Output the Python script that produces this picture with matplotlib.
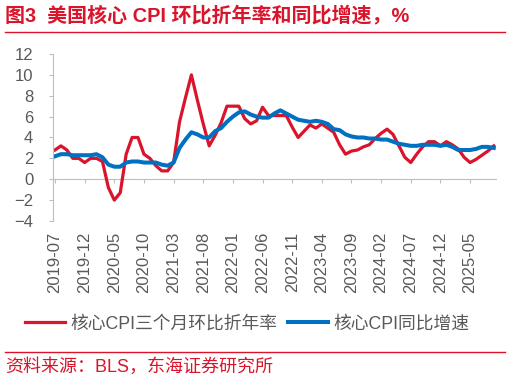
import matplotlib
matplotlib.use("Agg")
import matplotlib.pyplot as plt
from matplotlib.lines import Line2D
import pandas as pd

# monthly categories, 2019-07 .. 2025-09
months = pd.date_range("2019-07-01", periods=75, freq="MS").strftime("%Y-%m").tolist()

# core CPI, 3-month annualized m/m (%)
core_3m_ann = [
    2.8, 3.2, 2.8, 2.0, 2.0, 1.6,                                  # 2019 H2
    2.0, 2.0, 1.7, -0.8, -2.0, -1.3, 2.4, 4.0, 4.0, 2.4, 2.0, 1.3,  # 2020
    0.8, 0.8, 1.6, 5.5, 7.8, 10.0, 7.6, 5.3, 3.2, 4.2, 5.4, 7.0,    # 2021
    7.0, 7.0, 5.8, 5.3, 5.6, 6.9, 6.1, 6.1, 6.1, 6.1, 5.0, 4.0,     # 2022
    4.6, 5.2, 4.9, 5.3, 4.9, 4.5, 3.3, 2.4, 2.7, 2.8, 3.1, 3.3,     # 2023
    3.9, 4.4, 4.8, 4.3, 3.2, 2.1, 1.6, 2.4, 3.1, 3.6, 3.6, 3.2,     # 2024
    3.6, 3.3, 2.9, 2.1, 1.6, 1.9, 2.3, 2.7, 3.2,                    # 2025
]

# core CPI, y/y (%)
core_yoy = [
    2.2, 2.4, 2.4, 2.3, 2.3, 2.3,
    2.3, 2.4, 2.1, 1.4, 1.2, 1.2, 1.6, 1.7, 1.7, 1.6, 1.6, 1.6,
    1.4, 1.3, 1.6, 3.0, 3.8, 4.5, 4.3, 4.0, 4.0, 4.6, 4.9, 5.5,
    6.0, 6.4, 6.5, 6.2, 6.0, 5.9, 5.9, 6.3, 6.6, 6.3, 6.0, 5.7,
    5.6, 5.5, 5.6, 5.5, 5.3, 4.8, 4.7, 4.3, 4.1, 4.0, 4.0, 3.9,
    3.9, 3.8, 3.8, 3.6, 3.4, 3.3, 3.2, 3.2, 3.3, 3.3, 3.3, 3.2,
    3.3, 3.1, 2.8, 2.8, 2.8, 2.9, 3.1, 3.1, 3.0,
]

RED = "#D9142B"
BLUE = "#0070C0"
GREY = "#595959"
AXIS = "#BFBFBF"

plt.rcParams["font.family"] = ["Liberation Sans", "Noto Sans CJK SC"]

fig = plt.figure(figsize=(5.10, 3.81), dpi=100)
ax = fig.add_axes([0.1045, 0.42, 0.868, 0.4383])

x = list(range(len(months)))
ax.plot(x, core_3m_ann, color=RED, lw=2.3, solid_joinstyle="round",
        label="核心CPI三个月环比折年率")
ax.plot(x, core_yoy, color=BLUE, lw=2.9, solid_joinstyle="round",
        label="核心CPI同比增速")

ax.set_xlim(-0.29, 74.37)
ax.set_ylim(-4, 12)
ax.set_yticks(range(-4, 13, 2))
ax.set_xticks(x[::5], labels=months[::5], rotation=90)

for s in ["top", "right", "bottom"]:
    ax.spines[s].set_visible(False)
ax.spines["left"].set_color(AXIS)
ax.tick_params(axis="y", length=3, color=AXIS, pad=11.5, labelsize=12, labelcolor=GREY)
ax.tick_params(axis="x", length=0, pad=8, labelsize=12, labelcolor=GREY)

# zero line with category ticks
zero = ax.secondary_xaxis(0.25)
zero.spines["bottom"].set_color(AXIS)
zero.set_xticks(x[::5], labels=[])
zero.tick_params(length=3, color=AXIS)

fig.text(0.01, 1 - 15 / 381, "图3  美国核心 CPI 环比折年率和同比增速，%",
         color=RED, weight="bold", fontsize=14.4, va="center")
fig.add_artist(Line2D([0.01, 0.99], [1 - 32 / 381] * 2, transform=fig.transFigure,
                      color=RED, lw=1))

fig.legend(loc="center", bbox_to_anchor=(0.485, 1 - 324 / 381), ncol=2, frameon=False,
           handlelength=2.25, columnspacing=0.6, handletextpad=0.3, fontsize=12.8,
           labelcolor=GREY)

fig.add_artist(Line2D([0.01, 0.99], [1 - 352 / 381] * 2, transform=fig.transFigure,
                      color=RED, lw=1))
fig.text(0.01, 1 - 367 / 381, "资料来源：BLS，东海证券研究所", color=RED,
         fontsize=13, va="center")

fig.savefig("out.png", dpi=100)
